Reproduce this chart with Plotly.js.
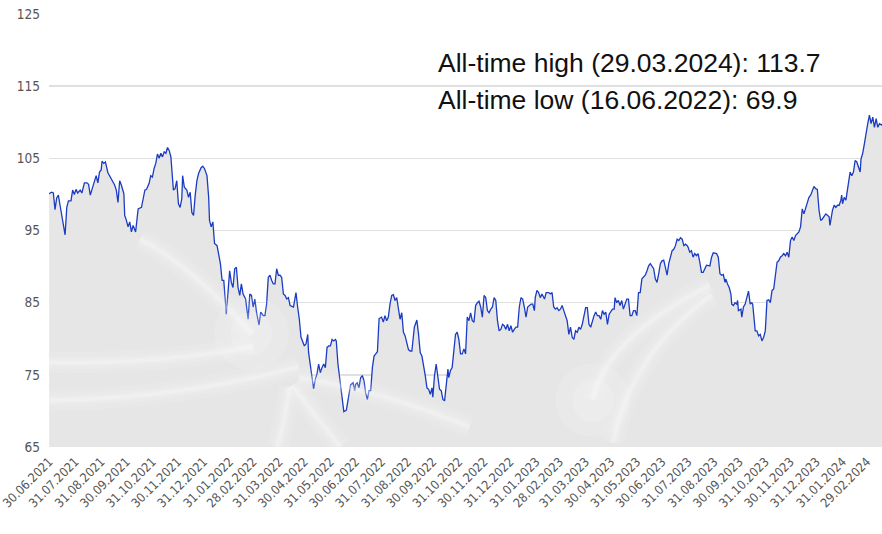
<!DOCTYPE html>
<html>
<head>
<meta charset="utf-8">
<script src="https://cdn.plot.ly/plotly-3.0.1.min.js"></script>
<style>
  html, body { margin: 0; padding: 0; background: #ffffff; }
  #chart { width: 882px; height: 534px; }
</style>
</head>
<body>
<div id="chart"></div>
<script>
// Index level, daily close (selected days), split by calendar year.
const days2021 = ['06-30','07-03','07-05','07-07','07-09','07-11','07-13','07-16','07-19','07-21','07-23','07-26','07-28','07-30',
  '08-01','08-03','08-06','08-08','08-11','08-14','08-16','08-18','08-20','08-23','08-25','08-27','08-29','08-31',
  '09-01','09-03','09-05','09-08','09-11','09-14','09-16','09-18','09-20','09-22','09-24','09-27','09-28','09-30',
  '10-02','10-04','10-06','10-08','10-11','10-14','10-16','10-18','10-20','10-22','10-24','10-27','10-29','10-31',
  '11-02','11-04','11-06','11-08','11-10','11-12','11-14','11-16','11-18','11-20','11-22','11-23','11-25','11-27','11-29',
  '12-01','12-03','12-05','12-06','12-08','12-11','12-13','12-15','12-17','12-19','12-21','12-23','12-25','12-28','12-30'];
const values2021 = [100.1,100.3,100.2,97.9,99.5,99.9,98.5,96.4,94.4,98.2,99.1,99.1,100.6,100.0,
  100.7,100.2,100.6,100.2,101.6,101.6,101.4,99.9,100.6,101.8,102.6,101.6,103.1,103.4,
  104.6,104.3,104.5,103.0,102.4,101.7,101.3,100.6,98.9,101.9,101.3,100.1,97.1,96.4,
  95.5,96.2,94.8,95.7,94.8,98.0,98.1,98.2,99.4,100.6,100.7,101.5,102.6,102.4,
  103.6,104.3,105.6,105.0,105.7,105.2,105.9,105.7,106.5,106.1,105.2,103.1,100.6,100.8,101.9,
  98.7,98.2,99.4,102.6,101.0,100.6,99.6,100.3,97.5,97.1,99.9,101.9,102.9,103.7,103.9];

const days2022 = ['01-01','01-04','01-06','01-07','01-09','01-11','01-13','01-16','01-20','01-22','01-24','01-27','01-29','01-31',
  '02-02','02-04','02-06','02-08','02-10','02-12','02-14','02-16','02-19','02-22','02-24','02-26','02-28',
  '03-02','03-04','03-07','03-09','03-12','03-14','03-16','03-18','03-20','03-22','03-24','03-26','03-28','03-30',
  '04-01','04-03','04-05','04-07','04-09','04-11','04-13','04-17','04-20','04-22','04-24','04-26','04-28','04-30',
  '05-02','05-04','05-05','05-07','05-09','05-11','05-13','05-15','05-17','05-19','05-21','05-23','05-25','05-27','05-29','05-31',
  '06-02','06-04','06-06','06-07','06-09','06-11','06-13','06-14','06-16','06-19','06-20','06-22','06-24','06-27','06-29','06-30',
  '07-02','07-04','07-06','07-08','07-10','07-12','07-14','07-16','07-18','07-20','07-22','07-24','07-26','07-28','07-31',
  '08-02','08-04','08-06','08-08','08-10','08-12','08-14','08-16','08-18','08-20','08-22','08-24','08-26','08-28','08-30',
  '09-01','09-03','09-05','09-08','09-10','09-11','09-13','09-15','09-17','09-19','09-21','09-23','09-25','09-27','09-29','09-30',
  '10-02','10-04','10-06','10-08','10-10','10-12','10-14','10-16','10-18','10-19','10-21','10-23','10-25','10-27','10-29','10-31',
  '11-02','11-04','11-06','11-08','11-10','11-12','11-14','11-16','11-18','11-20','11-22','11-24','11-26','11-28','11-30',
  '12-02','12-04','12-06','12-08','12-10','12-12','12-14','12-16','12-18','12-20','12-22','12-24','12-26','12-28','12-30'];
const values2022 = [103.6,102.6,99.6,96.4,95.5,96.2,93.2,92.9,90.4,88.1,88.1,83.4,86.7,89.4,
  87.8,87.1,89.7,89.9,87.1,86.0,87.6,86.2,85.5,82.7,86.2,86.0,84.4,
  85.5,83.7,81.9,83.7,83.2,83.2,84.8,88.5,88.8,88.1,87.6,87.6,89.7,88.8,
  88.8,88.5,86.2,86.0,85.5,85.7,84.6,84.4,86.4,84.4,82.7,80.2,79.5,79.0,
  79.3,80.6,78.1,76.5,74.6,73.1,74.4,75.1,76.5,75.3,76.0,76.5,76.0,78.8,79.0,79.0,
  79.9,79.7,79.9,79.7,76.5,74.6,72.8,71.8,69.9,70.1,70.9,71.8,73.6,73.9,72.8,73.7,
  73.9,73.2,74.6,74.9,74.2,72.5,71.6,72.8,72.8,76.0,77.6,77.9,78.2,82.8,83.0,
  82.3,83.2,82.5,83.0,84.8,86.0,86.1,85.3,85.7,83.9,82.7,83.6,80.9,80.4,79.5,
  78.5,78.3,78.3,81.6,82.3,82.6,80.6,78.1,77.6,76.5,74.9,73.2,73.0,72.3,73.2,71.9,
  74.9,76.5,74.6,73.0,72.8,71.6,71.4,73.7,75.8,74.6,75.6,76.0,78.8,80.6,80.9,79.9,
  77.9,77.9,78.6,77.9,83.0,82.5,83.6,82.5,82.3,84.6,85.0,85.2,84.4,83.0,86.0,
  85.7,83.9,83.6,84.1,84.4,85.7,85.3,82.5,81.1,81.3,82.0,81.8,81.3,82.0,81.1];

const days2023 = ['01-01','01-03','01-05','01-07','01-09','01-11','01-13','01-15','01-17','01-19','01-21','01-23','01-25','01-27','01-29','01-30',
  '02-01','02-03','02-05','02-07','02-10','02-12','02-15','02-17','02-19','02-21','02-23','02-25','02-27',
  '03-01','03-03','03-05','03-07','03-09','03-11','03-13','03-15','03-17','03-19','03-21','03-23','03-25','03-27','03-29','03-31',
  '04-02','04-04','04-06','04-08','04-10','04-12','04-14','04-16','04-18','04-20','04-22','04-24','04-26','04-28','04-30',
  '05-02','05-04','05-05','05-07','05-09','05-11','05-13','05-15','05-17','05-19','05-21','05-23','05-25','05-27','05-29','05-31',
  '06-02','06-04','06-06','06-08','06-10','06-12','06-14','06-16','06-18','06-20','06-22','06-24','06-26','06-28','06-30',
  '07-02','07-04','07-06','07-08','07-10','07-12','07-14','07-16','07-18','07-20','07-22','07-24','07-26','07-28','07-30','07-31',
  '08-02','08-04','08-06','08-08','08-10','08-12','08-14','08-16','08-18','08-20','08-22','08-26','08-28','08-30',
  '09-01','09-03','09-05','09-07','09-09','09-11','09-13','09-14','09-16','09-18','09-20','09-21','09-23','09-25','09-27','09-28','09-29',
  '10-02','10-03','10-05','10-07','10-09','10-11','10-13','10-15','10-16','10-18','10-19','10-21','10-23','10-25','10-27','10-29','10-31',
  '11-02','11-04','11-06','11-08','11-10','11-12','11-14','11-16','11-18','11-20','11-22','11-24','11-26','11-28','11-30',
  '12-02','12-04','12-06','12-08','12-10','12-12','12-14','12-16','12-18','12-20','12-22','12-24','12-26','12-28','12-30'];
const values2023 = [81.8,80.9,81.3,81.6,81.6,84.4,85.7,85.5,84.4,83.0,84.4,84.6,84.8,84.8,83.9,85.7,
  86.7,86.4,85.7,86.2,85.5,86.4,86.4,86.2,86.4,84.4,84.1,84.3,83.9,
  84.1,84.6,83.9,83.0,82.5,80.6,81.6,80.2,79.9,81.1,80.9,81.6,81.3,82.0,83.0,84.3,
  84.3,82.0,81.6,82.5,83.2,83.7,83.2,83.2,82.7,83.9,83.4,83.7,82.0,83.4,83.7,
  84.1,84.1,85.7,85.0,85.3,84.6,85.3,84.1,85.0,85.5,85.5,83.2,83.2,83.9,83.9,83.2,
  86.4,86.4,88.3,88.5,88.8,89.4,90.1,90.4,90.1,89.7,88.3,87.8,89.0,90.4,90.8,
  90.9,89.9,88.8,90.4,91.3,92.2,92.4,92.9,93.8,93.6,94.0,93.8,92.9,93.1,92.9,92.7,
  92.0,92.2,91.3,91.8,91.5,91.8,90.6,89.2,89.2,89.7,90.2,90.1,91.3,91.9,
  91.8,91.8,91.3,89.0,88.8,88.9,87.8,88.3,87.6,87.1,86.2,84.8,84.6,85.0,84.8,85.3,83.9,
  84.1,83.0,84.4,84.8,85.7,86.6,84.8,85.0,84.8,82.5,81.1,81.1,80.4,80.6,79.7,80.2,81.1,
  85.3,85.4,85.0,86.7,86.9,89.0,90.6,90.8,91.3,91.5,91.8,91.5,92.0,91.3,93.6,
  94.1,93.6,94.3,94.5,94.8,95.5,98.0,97.3,98.0,98.7,99.6,99.9,100.6,101.1,100.8];

const days2024 = ['01-01','01-03','01-05','01-07','01-09','01-11','01-13','01-15','01-16','01-17','01-19','01-21','01-23','01-25','01-27','01-29','01-30','01-31',
  '02-02','02-04','02-06','02-07','02-09','02-11','02-13','02-15','02-17','02-19','02-21','02-22','02-24','02-26','02-28',
  '03-01','03-03','03-05','03-07','03-09','03-11','03-13','03-15','03-18','03-29'];
const values2024 = [100.7,97.8,96.4,96.6,96.9,97.3,97.1,96.9,95.7,96.6,97.8,98.5,98.2,98.5,98.5,99.2,99.9,98.7,
  99.6,99.2,100.8,101.9,103.1,102.6,103.1,104.7,104.5,103.8,103.1,104.9,105.7,107.0,108.7,
  109.8,111.0,109.8,110.7,109.3,110.5,109.3,109.8,109.6,113.7];

// Month-end axis labels
const tickLabels = ['30.06.2021','31.07.2021','31.08.2021','30.09.2021','31.10.2021','30.11.2021','31.12.2021',
  '31.01.2022','28.02.2022','31.03.2022','30.04.2022','31.05.2022','30.06.2022','31.07.2022','31.08.2022',
  '30.09.2022','31.10.2022','30.11.2022','31.12.2022','31.01.2023','28.02.2023','31.03.2023','30.04.2023',
  '31.05.2023','30.06.2023','31.07.2023','31.08.2023','30.09.2023','31.10.2023','30.11.2023','31.12.2023',
  '31.01.2024','29.02.2024'];
const yTicks = [65, 75, 85, 95, 105, 115, 125];

const dates = [].concat(
  days2021.map(d => '2021-' + d),
  days2022.map(d => '2022-' + d),
  days2023.map(d => '2023-' + d),
  days2024.map(d => '2024-' + d)
);
const values = [].concat(values2021, values2022, values2023, values2024);

const toIso = s => s.split('.').reverse().join('-');
const toDmy = s => s.split('-').reverse().join('.');

// Extremes of the series for the summary lines
let hi = 0, lo = 0;
values.forEach((v, i) => { if (v > values[hi]) hi = i; if (v < values[lo]) lo = i; });
const highText = 'All-time high (' + toDmy(dates[hi]) + '): ' + values[hi].toFixed(1);
const lowText = 'All-time low (' + toDmy(dates[lo]) + '): ' + values[lo].toFixed(1);

const condensed = "'Liberation Sans Narrow', 'DejaVu Sans Condensed', 'Roboto', sans-serif";

const trace = {
  type: 'scatter',
  mode: 'lines',
  x: dates,
  y: values,
  fill: 'tozeroy',
  fillcolor: '#e6e6e6',
  line: { color: '#1b3cc2', width: 1.3 },
  hoverinfo: 'x+y'
};

// Soft light streaks over the shaded area (paper coordinates)
const streakPaths = [
  'M 0.109,0.480 Q 0.17,0.42 0.244,0.261',
  'M 0.0,0.196 Q 0.13,0.19 0.245,0.232',
  'M 0.0,0.108 Q 0.15,0.11 0.30,0.185',
  'M 0.289,0.139 Q 0.283,0.06 0.274,0.0',
  'M 0.292,0.143 Q 0.32,0.07 0.35,0.0',
  'M 0.30,0.16 Q 0.40,0.13 0.505,0.046',
  'M 0.653,0.109 Q 0.667,0.25 0.7935,0.374',
  'M 0.677,0.010 Q 0.70,0.22 0.796,0.351'
];
const shapes = [];
streakPaths.forEach(p => {
  [[22, 0.08], [13, 0.11], [7, 0.15], [3, 0.2]].forEach(([w, o]) => {
    shapes.push({
      type: 'path', path: p, xref: 'paper', yref: 'paper', layer: 'above',
      line: { color: '#ffffff', width: w }, opacity: o
    });
  });
});
[[0.243, 0.262], [0.653, 0.108]].forEach(([cx, cy]) => {
  [[0.045, 0.085, 0.12], [0.025, 0.05, 0.14]].forEach(([rx, ry, o]) => {
    shapes.push({
      type: 'circle', xref: 'paper', yref: 'paper', layer: 'above',
      x0: cx - rx, x1: cx + rx, y0: cy - ry, y1: cy + ry,
      fillcolor: '#ffffff', line: { width: 0 }, opacity: o
    });
  });
});

const layout = {
  width: 882,
  height: 534,
  margin: { l: 49, r: 0, t: 14, b: 87 },
  paper_bgcolor: '#ffffff',
  plot_bgcolor: '#ffffff',
  showlegend: false,
  xaxis: {
    type: 'date',
    range: ['2021-06-29 20:00', '2024-03-18'],
    tickmode: 'array',
    tickvals: tickLabels.map(toIso),
    ticktext: tickLabels,
    tickangle: -45,
    tickfont: { family: condensed, size: 12.5, color: '#555555' },
    ticklabeloverflow: 'allow',
    showgrid: false,
    zeroline: false,
    showline: false,
    ticks: '',
    ticklabelstandoff: 4,
    automargin: false
  },
  yaxis: {
    range: [65, 125],
    tickmode: 'array',
    tickvals: yTicks,
    ticktext: yTicks.map(String),
    tickfont: { family: condensed, size: 13.5, color: '#555555' },
    gridcolor: '#e0e0e0',
    gridwidth: 1.5,
    zeroline: false,
    showline: false,
    ticks: '',
    ticklabelstandoff: 8,
    automargin: false
  },
  shapes: shapes,
  annotations: [
    {
      text: highText, xref: 'paper', yref: 'paper', x: 0.465, y: 0.886,
      xanchor: 'left', yanchor: 'middle', showarrow: false,
      font: { family: "'Liberation Sans', Arial, sans-serif", size: 26.5, color: '#111111' }
    },
    {
      text: lowText, xref: 'paper', yref: 'paper', x: 0.465, y: 0.802,
      xanchor: 'left', yanchor: 'middle', showarrow: false,
      font: { family: "'Liberation Sans', Arial, sans-serif", size: 26.5, color: '#111111' }
    }
  ]
};

Plotly.newPlot('chart', [trace], layout, { displayModeBar: false, staticPlot: true });
</script>
</body>
</html>
